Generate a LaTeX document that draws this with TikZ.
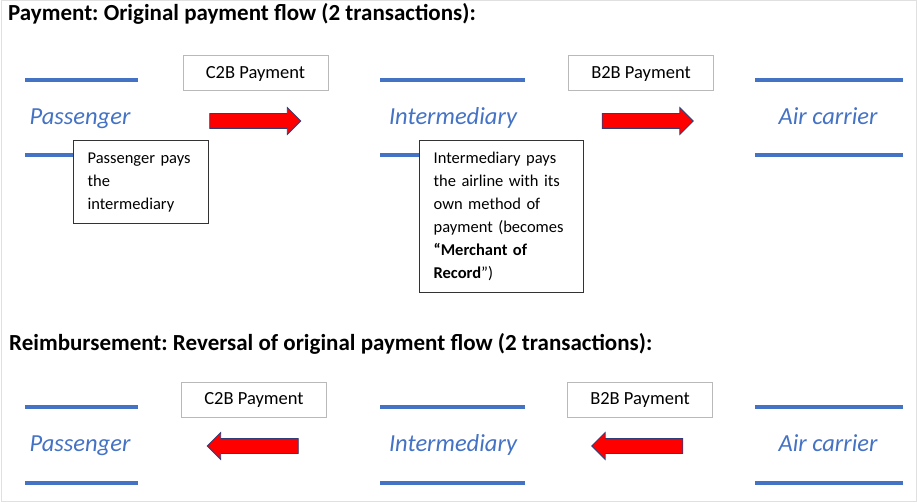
\documentclass[tikz,border=0pt]{standalone}
\usepackage{fontspec}
\setmainfont{Carlito}
\usetikzlibrary{shapes.arrows}
\frenchspacing

\definecolor{officeblue}{RGB}{68,114,196}
\definecolor{arrowedge}{RGB}{47,62,120}

\tikzset{
  lane/.style={color=officeblue, line width=4pt},
  party/.style={anchor=base, text=officeblue, font=\fontsize{24.5}{28}\selectfont\itshape, inner sep=0pt},
  heading/.style={anchor=base west, inner sep=0pt, font=\fontsize{23}{27}\selectfont\bfseries},
  kindbox/.style={draw=gray!55, line width=1pt, fill=white, minimum width=145pt, minimum height=35pt,
    inner sep=0pt, font=\fontsize{18.5}{22}\selectfont},
  notebox/.style={draw=black!80, line width=1.2pt, fill=white, anchor=north west, align=left,
    inner xsep=14pt, inner ysep=0pt, font=\fontsize{16.5}{23}\selectfont},
  flow/.style={single arrow, fill=red, draw=arrowedge, line width=0.8pt, inner xsep=0pt, inner ysep=7pt,
    single arrow head extend=6pt, minimum height=91pt}
}

\begin{document}
\begin{tikzpicture}[x=1pt,y=-1pt]
      \useasboundingbox (0,0) rectangle (917,502);
      \draw[color=black!12, line width=1pt] (1,1) rectangle (916,501);
      % Payment: original flow
      \node[heading] (paytitle) at (8,21) {Payment: Original payment flow (2 transactions):};
      % lanes for the three parties
      \draw[lane] (25,80) -- (138,80);
      \draw[lane] (25,155) -- (138,155);
      \draw[lane] (380,80) -- (525,80);
      \draw[lane] (380,155) -- (525,155);
      \draw[lane] (755,80) -- (903,80);
      \draw[lane] (755,155) -- (903,155);
      \node[party] (paxtop) at (80,125) {Passenger};
      \node[party] (midtop) at (453,125) {Intermediary};
      \node[party] (airtop) at (828,125) {Air carrier};
      % transaction kinds and arrows
      \node[kindbox] (ctbtop) at (255.5,73.5) {C2B Payment};
      \node[kindbox] (btbtop) at (641,73.5) {B2B Payment};
      \node[flow] (paxpays) at (251.5,121) {};
      \node[flow] (midpays) at (644,121) {};
      % notes
      \node[notebox, text width=107pt, minimum height=83pt] (paxnote) at (73,140)
        {Passenger pays\\the\\intermediary};
      \node[notebox, text width=136pt, minimum height=152pt] (midnote) at (419,140)
        {Intermediary pays\\the airline with its\\own method of\\payment (becomes\\\textbf{“Merchant of}\\\textbf{Record}”)};
      % Reimbursement: reversed flow
      \node[heading] (refundtitle) at (9,350) {Reimbursement: Reversal of original payment flow (2 transactions):};
      \draw[lane] (25,407) -- (138,407);
      \draw[lane] (25,483) -- (138,483);
      \draw[lane] (380,407) -- (525,407);
      \draw[lane] (380,483) -- (525,483);
      \draw[lane] (755,407) -- (903,407);
      \draw[lane] (755,483) -- (903,483);
      \node[party] (paxbot) at (80,451) {Passenger};
      \node[party] (midbot) at (453,451) {Intermediary};
      \node[party] (airbot) at (828,451) {Air carrier};
      \node[kindbox] (ctbbot) at (254,400) {C2B Payment};
      \node[kindbox] (btbbot) at (640,400) {B2B Payment};
      \node[flow, shape border rotate=180] (paxrefund) at (256.5,446) {};
      \node[flow, shape border rotate=180] (midrefund) at (641,446) {};
\end{tikzpicture}
\end{document}
